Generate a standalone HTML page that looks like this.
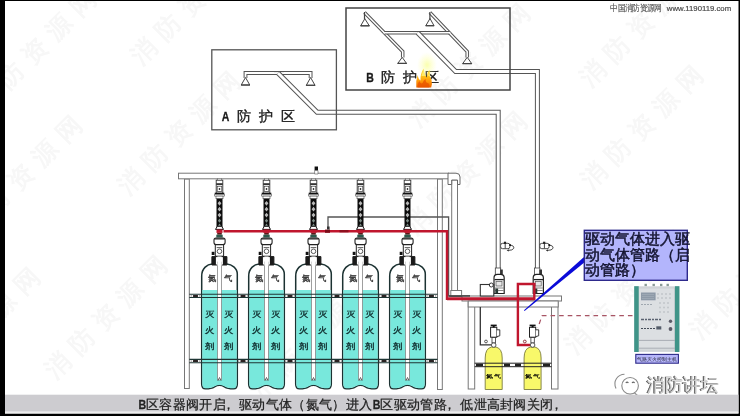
<!DOCTYPE html>
<html><head><meta charset="utf-8">
<style>
html,body{margin:0;padding:0;background:#000;}
body{width:740px;height:416px;overflow:hidden;position:relative;font-family:"Liberation Sans",sans-serif;}
svg{position:absolute;left:0;top:0;}
svg text{font-family:"Liberation Sans",sans-serif;}
</style></head>
<body>
<svg width="740" height="416" viewBox="0 0 740 416">
<defs>
  <pattern id="hose" x="0" y="0" width="7" height="7" patternUnits="userSpaceOnUse">
    <rect width="7" height="7" fill="#111"/>
    <path d="M3.5 1.5 L5 3.5 L3.5 5.5 L2 3.5 Z" fill="#bbb"/>
  </pattern>
  <g id="cyl">
    <!-- valve head -->
    <rect x="-1.8" y="178.3" width="3.6" height="2" fill="#fff" stroke="#666" stroke-width="0.6"/>
    <rect x="-3.3" y="180.2" width="6.6" height="13" fill="#fff" stroke="#333" stroke-width="0.9"/>
    <rect x="-3.3" y="183.2" width="6.6" height="1.8" fill="#333"/>
    <rect x="-2.3" y="186.2" width="4.6" height="5.2" fill="#fff" stroke="#333" stroke-width="0.7"/>
    <rect x="-0.7" y="188.2" width="1.4" height="1.6" fill="#111"/>
    <rect x="-4.8" y="192.7" width="9.6" height="1.6" fill="#111"/>
    <rect x="-4.8" y="194.3" width="9.6" height="1.8" fill="#fff" stroke="#444" stroke-width="0.6"/>
    <rect x="-3.5" y="196.1" width="7" height="2.6" fill="#fff" stroke="#444" stroke-width="0.6"/>
    <!-- hose -->
    <rect x="-3" y="198.7" width="6" height="28.5" fill="#0c0c0c"/>
    <path d="M0 200.9 l1.9 2.4 l-1.9 2.4 l-1.9 -2.4 Z M0 206.8 l1.9 2.4 l-1.9 2.4 l-1.9 -2.4 Z M0 212.7 l1.9 2.4 l-1.9 2.4 l-1.9 -2.4 Z" fill="#b8b8b8"/>
    <path d="M0 218.6 l1.6 2.1 l-1.6 2.1 l-1.6 -2.1 Z M0 223.6 l1.4 1.8 l-1.4 1.8 l-1.4 -1.8 Z" fill="#7c8c86"/>
    <!-- fitting -->
    <path d="M-4 229.4 L-2.2 226.3 H2.2 L4 229.4 Z" fill="#fff" stroke="#111" stroke-width="1"/>
    <rect x="-3" y="229.5" width="6" height="3.4" fill="#c0162e"/>
    <rect x="-2.3" y="232.9" width="4.6" height="1.8" fill="#5a1818"/>
    <rect x="-3.2" y="234.7" width="6.4" height="2.8" fill="#2c5a4c"/>
    <!-- valve body -->
    <rect x="-4.2" y="244" width="8.3" height="12.2" fill="#fff" stroke="#222" stroke-width="1"/>
    <rect x="-5.5" y="238" width="11.1" height="6.6" rx="2" fill="#fff" stroke="#222" stroke-width="1.1"/>
    <path d="M-5 238.9 H5" stroke="#222" stroke-width="1.2"/>
    <path d="M-2.8 247.6 H2.8" stroke="#333" stroke-width="0.8"/>
    <circle cx="0" cy="251.3" r="2.3" fill="none" stroke="#333" stroke-width="0.8"/>
    <rect x="-7.8" y="251.8" width="2.8" height="3.2" fill="#111"/>
    <!-- body -->
    <path d="M-7.4 264 C-12 264.3 -17.8 268 -17.8 276 V384 Q-17.8 388.8 -14 388.8 Q-8 388.8 -5 386.8 Q0 383.8 5 386.8 Q8 388.8 14 388.8 Q17.8 388.8 17.8 384 V274 C17.8 268 12 264.3 7.4 264 Z" fill="#fff" stroke="#1c3232" stroke-width="1.5"/>
    <path d="M-17.2 290 V384 Q-17.2 388.2 -14 388.2 Q-8 388.2 -5 386.2 Q0 383.2 5 386.2 Q8 388.2 14 388.2 Q17.2 388.2 17.2 384 V290 Z" fill="#78e8dc"/>
    <!-- collar -->
    <path d="M-7.6 256.6 H7.4 V265 H-7.6 Z" fill="#fff" stroke="#1a1a1a" stroke-width="1"/>
    <rect x="-7.6" y="256.6" width="4" height="8.4" fill="#1a1a1a"/>
    <rect x="3.4" y="256.6" width="4" height="8.4" fill="#1a1a1a"/>
    <!-- dip tube -->
    <rect x="-2.1" y="262" width="4.2" height="118" fill="#fff" stroke="#777" stroke-width="0.7"/>
    <rect x="-2.1" y="256.5" width="4.2" height="9" fill="#fff"/>
    <path d="M-1.5 380.5 l1.5 -3 l1.5 3" fill="none" stroke="#333" stroke-width="0.7"/>
    <!-- labels -->
    <g font-size="8.6" text-anchor="middle" fill="#383838" stroke="#383838" stroke-width="0.35">
    <text transform="translate(-7.6 280.6) scale(0.98 0.94)">氮</text>
    <text transform="translate(8.4 280.6) scale(0.98 0.94)">气</text>
    </g>
    <g font-size="9.6" text-anchor="middle" fill="#123232" stroke="#123232" stroke-width="0.45">
    <text transform="translate(-9.8 316.5) scale(0.98 0.84)">灭</text>
    <text transform="translate(9.5 316.5) scale(0.98 0.84)">灭</text>
    <text transform="translate(-9.8 332.8) scale(0.98 0.84)">火</text>
    <text transform="translate(9.5 332.8) scale(0.98 0.84)">火</text>
    <text transform="translate(-9.8 348.8) scale(0.98 0.84)">剂</text>
    <text transform="translate(9.5 348.8) scale(0.98 0.84)">剂</text>
    </g>
  </g>
</defs>

<!-- background -->
<rect x="5" y="1" width="733.5" height="412.5" fill="#fff"/>

<!-- watermarks -->
<g font-size="25" fill="#000" opacity="0.032" letter-spacing="9" font-weight="bold">
  <text transform="translate(-16 114) rotate(-45)">消防资源网</text>
  <text transform="translate(-30 240) rotate(-45)">消防资源网</text>
  <text transform="translate(141 66) rotate(-45)">消防资源网</text>
  <text transform="translate(128 196) rotate(-45)">消防资源网</text>
  <text transform="translate(415 236) rotate(-45)">消防资源网</text>
  <text transform="translate(590 88) rotate(-45)">消防资源网</text>
  <text transform="translate(591 190) rotate(-45)">消防资源网</text>
  <text transform="translate(700 340) rotate(-45)">消防资源网</text>
  <text transform="translate(575 355) rotate(-45)">消防资源网</text>
  <text transform="translate(260 400) rotate(-45)">消防资源网</text>
  <text transform="translate(55 380) rotate(-45)">消防资源网</text>
  <text transform="translate(-72 392) rotate(-45)">消防资源网</text>
  <text transform="translate(418 128) rotate(-45)">消防资源网</text>
</g>

<!-- ===== Zone B box ===== -->
<rect x="346" y="8" width="164" height="82" fill="none" stroke="#444" stroke-width="1.5"/>
<!-- Zone A box -->
<rect x="211.8" y="49.8" width="124.6" height="80" fill="none" stroke="#555" stroke-width="1.3"/>

<!-- pipes: outer gray then white inner -->
<g fill="none" stroke-linejoin="miter">
  <!-- A network -->
  <path d="M245.5 78 V73 H310.6 V78" stroke="#555" stroke-width="3.8"/>
  <path d="M245.5 78.5 V73 H310.6 V78.5" stroke="#fff" stroke-width="1.8"/>
  <!-- A feed -->
  <path d="M278 73 L317.2 112.2 H498.2 V275" stroke="#555" stroke-width="5"/>
  <path d="M278 73 L317.2 112.2 H498.2 V276" stroke="#fff" stroke-width="3"/>
  <path d="M274 71.6 H284" stroke="#555" stroke-width="1"/>
  <!-- B network -->
  <path d="M364.5 12.5 L402.7 51.5 V57.5" stroke="#555" stroke-width="3.5"/>
  <path d="M364.5 12.5 L402.7 51.5 V58" stroke="#fff" stroke-width="1.5"/>
  <path d="M429.9 12.5 L467.2 51.5 V57.5" stroke="#555" stroke-width="3.5"/>
  <path d="M429.9 12.5 L467.2 51.5 V58" stroke="#fff" stroke-width="1.5"/>
  <path d="M384.6 32.8 H449.3" stroke="#555" stroke-width="3.5"/>
  <path d="M383.6 32.8 H450.3" stroke="#fff" stroke-width="1.5"/>
  <!-- B feed -->
  <path d="M417.6 32.8 L455.6 71.5 H537.4 V275" stroke="#555" stroke-width="5"/>
  <path d="M417.6 32.8 L455.6 71.5 H537.4 V276" stroke="#fff" stroke-width="3"/>
  <path d="M413 31.55 H423" stroke="#555" stroke-width="1"/>
</g>
<!-- re-stroke box edges that pipes cross -->
<path d="M336.4 110 V114.5" stroke="#555" stroke-width="1.3"/>
<path d="M510 69 V74" stroke="#444" stroke-width="1.5"/>

<!-- nozzles -->
<g fill="#fff" stroke="#444" stroke-width="1">
  <path d="M245.5 77.5 L249.8 85 H241.2 Z"/>
  <path d="M310.6 77.5 L315 85.3 H306.3 Z"/>
  <path d="M364.8 18.7 L369.3 25.8 H360.7 Z"/>
  <path d="M430 18.5 L434 25.7 H425.8 Z"/>
  <path d="M402.2 57.3 L406.5 63.4 H397.8 Z"/>
  <path d="M467.2 57.3 L471.7 63.6 H462.7 Z"/>
</g>
<g stroke="#444" stroke-width="1.2">
  <path d="M364.5 12 V19"/><path d="M429.9 12 V19"/>
  <path d="M241 85 H250"/><path d="M306 85.3 H315.2"/>
  <path d="M360.5 25.8 H369.6"/><path d="M425.6 25.7 H434.2"/>
  <path d="M397.5 63.4 H406.8"/><path d="M462.5 63.6 H471.9"/>
</g>

<!-- zone labels -->
<g font-size="13.6" fill="#1a1a1a" stroke="#1a1a1a" stroke-width="0.35">
  <text x="0" y="0" font-size="13.5" font-weight="bold" transform="translate(221.8 120.6) scale(0.78 1)">A</text>
  <text x="236.9" y="120.9">防</text>
  <text x="258.8" y="120.9">护</text>
  <text x="280.7" y="120.9">区</text>
  <text x="0" y="0" font-size="13.5" font-weight="bold" transform="translate(366.2 81.7) scale(0.78 1)">B</text>
  <text x="381.3" y="81.9">防</text>
  <text x="403.2" y="81.9">护</text>
  <text x="424.6" y="81.9">区</text>
</g>
<!-- flame -->
<defs>
  <linearGradient id="flg" x1="0" y1="1" x2="0" y2="0">
    <stop offset="0" stop-color="#ea6400"/>
    <stop offset="0.3" stop-color="#ff9408"/>
    <stop offset="0.6" stop-color="#ffc21a"/>
    <stop offset="1" stop-color="#ffe94a"/>
  </linearGradient>
  <radialGradient id="glow" cx="0.5" cy="0.5" r="0.5">
    <stop offset="0" stop-color="#f6ff6a" stop-opacity="0.55"/>
    <stop offset="1" stop-color="#ffffa0" stop-opacity="0"/>
  </radialGradient>
</defs>
<ellipse cx="427" cy="65" rx="10" ry="13" fill="url(#glow)"/>
<path d="M416.3 87.5 Q415.6 81 417.6 75 Q418.6 79.5 420.5 80.5 Q420 74 423.6 68.5 Q424 75 427 77.5 Q427 72 429.6 70 Q429.2 76 431.5 80 Q432.5 84 431.2 87.5 Z" fill="url(#flg)"/>
<path d="M417.6 87.5 Q417.4 83.5 419.2 81 Q420.8 84.5 422.6 83 Q423.5 80 425.6 79 Q425.6 83.5 428.2 83 Q430 85 429.4 87.5 Z" fill="#e85200" opacity="0.75"/>
<path d="M421.5 76 Q422.5 72 424 70 Q424.5 74 426 76 Z M428 75.5 Q428.6 73 429.6 72 Q429.5 75 430.5 77 Z" fill="#fff27a" opacity="0.8"/>

<!-- ===== rack ===== -->
<g fill="#fff" stroke="#777" stroke-width="1">
  <rect x="184.5" y="179" width="4.8" height="209.5"/>
  <rect x="437.5" y="179" width="4.8" height="210.5"/>
  <rect x="178.5" y="173.2" width="270" height="5.6"/>
  <rect x="451.7" y="180" width="5.8" height="111"/>
  <path d="M448 173.2 H456 Q460 173.2 460 177 V184.5 H457.5 V180 H451.7 V184.5 H448 Z" stroke="#666"/>
  <rect x="450.8" y="290.5" width="10.8" height="6" />
</g>
<!-- small relief valve on top rail -->
<path d="M314.6 166.5 H318 V170.5 H314.6 Z" fill="#111"/>
<path d="M314.6 170.5 H318 V174 H314.6 Z" fill="#fff" stroke="#555" stroke-width="0.6"/>

<!-- gray manifold line -->
<path d="M328 228 V217 H448.6 V296 H470" fill="none" stroke="#555" stroke-width="1.3"/>

<!-- cylinders -->
<use href="#cyl" x="219.5"/>
<use href="#cyl" x="266.5"/>
<use href="#cyl" x="313.5"/>
<use href="#cyl" x="360.5"/>
<use href="#cyl" x="407.5"/>

<!-- clamp bars -->
<g fill="none" stroke="#1f3634" stroke-width="1.1">
  <path d="M189.3 294.2 H437.5 M189.3 297.5 H437.5"/>
  <path d="M189.3 359.4 H437.5 M189.3 362.7 H437.5"/>
</g>
<g fill="#2a2222">
  <rect x="192.9" y="294.9" width="5.2" height="2" rx="0.6"/><rect x="190.7" y="295.2" width="1" height="1.4" opacity="0.6"/><rect x="199.3" y="295.2" width="1" height="1.4" opacity="0.6"/>
  <rect x="240.4" y="294.9" width="5.2" height="2" rx="0.6"/><rect x="238.2" y="295.2" width="1" height="1.4" opacity="0.6"/><rect x="246.8" y="295.2" width="1" height="1.4" opacity="0.6"/>
  <rect x="287.4" y="294.9" width="5.2" height="2" rx="0.6"/><rect x="285.2" y="295.2" width="1" height="1.4" opacity="0.6"/><rect x="293.8" y="295.2" width="1" height="1.4" opacity="0.6"/>
  <rect x="334.4" y="294.9" width="5.2" height="2" rx="0.6"/><rect x="332.2" y="295.2" width="1" height="1.4" opacity="0.6"/><rect x="340.8" y="295.2" width="1" height="1.4" opacity="0.6"/>
  <rect x="381.4" y="294.9" width="5.2" height="2" rx="0.6"/><rect x="379.2" y="295.2" width="1" height="1.4" opacity="0.6"/><rect x="387.8" y="295.2" width="1" height="1.4" opacity="0.6"/>
  <rect x="428.8" y="294.9" width="5.2" height="2" rx="0.6"/><rect x="426.6" y="295.2" width="1" height="1.4" opacity="0.6"/><rect x="435.2" y="295.2" width="1" height="1.4" opacity="0.6"/>
  <rect x="192.9" y="360.1" width="5.2" height="2" rx="0.6"/><rect x="190.7" y="360.4" width="1" height="1.4" opacity="0.6"/><rect x="199.3" y="360.4" width="1" height="1.4" opacity="0.6"/>
  <rect x="240.4" y="360.1" width="5.2" height="2" rx="0.6"/><rect x="238.2" y="360.4" width="1" height="1.4" opacity="0.6"/><rect x="246.8" y="360.4" width="1" height="1.4" opacity="0.6"/>
  <rect x="287.4" y="360.1" width="5.2" height="2" rx="0.6"/><rect x="285.2" y="360.4" width="1" height="1.4" opacity="0.6"/><rect x="293.8" y="360.4" width="1" height="1.4" opacity="0.6"/>
  <rect x="334.4" y="360.1" width="5.2" height="2" rx="0.6"/><rect x="332.2" y="360.4" width="1" height="1.4" opacity="0.6"/><rect x="340.8" y="360.4" width="1" height="1.4" opacity="0.6"/>
  <rect x="381.4" y="360.1" width="5.2" height="2" rx="0.6"/><rect x="379.2" y="360.4" width="1" height="1.4" opacity="0.6"/><rect x="387.8" y="360.4" width="1" height="1.4" opacity="0.6"/>
  <rect x="428.8" y="360.1" width="5.2" height="2" rx="0.6"/><rect x="426.6" y="360.4" width="1" height="1.4" opacity="0.6"/><rect x="435.2" y="360.4" width="1" height="1.4" opacity="0.6"/>
</g>

<!-- ===== right platform ===== -->
<g fill="#fff" stroke="#777" stroke-width="1">
  <rect x="468.2" y="302" width="6.5" height="87"/>
  <rect x="551.5" y="302" width="6.5" height="87"/>
  <rect x="462" y="296" width="99.5" height="5"/>
  <rect x="468.2" y="301" width="90" height="6"/>
</g>
<path d="M449 296 H470" stroke="#444" stroke-width="1.4"/>

<!-- selector valves -->
<g id="selA">
  <rect x="495.3" y="268" width="5.4" height="7" fill="#fff" stroke="#444" stroke-width="0.8"/>
  <rect x="500.2" y="269.5" width="2.6" height="5" fill="#333"/>
  <path d="M494 293.5 V278 Q494 274.4 497.5 274.4 H500.5 Q504.2 274.4 504.2 278 V293.5 Z" fill="#fff" stroke="#222" stroke-width="1.2"/>
  <path d="M494.5 279.6 H503.8" stroke="#222" stroke-width="1.3"/>
  <rect x="496" y="281.5" width="6" height="4.5" fill="#e8e8e8" stroke="#555" stroke-width="0.7"/>
  <path d="M495 288 H503.5 M495 290.5 H503.5" stroke="#555" stroke-width="0.7"/>
  <rect x="495.3" y="288.5" width="2.8" height="5" fill="#2a3a34"/>
</g>
<use href="#selA" x="39.2"/>
<!-- pressure box -->
<rect x="480.3" y="284.5" width="13.5" height="11.5" fill="#fff" stroke="#333" stroke-width="1.1"/>
<circle cx="491.3" cy="285" r="2" fill="#fff" stroke="#333" stroke-width="1"/>
<!-- check valve symbols -->
<g id="chk">
  <rect x="500.6" y="243.3" width="9.3" height="5.4" rx="2" fill="#fff" stroke="#333" stroke-width="0.9"/>
  <path d="M505.2 243.5 V248.5" stroke="#444" stroke-width="1"/>
  <rect x="503.9" y="241.7" width="2.2" height="2.2" fill="#222"/>
  <path d="M509.8 245.1 Q514.6 245.6 513.7 248.4 Q512.8 250.4 508.2 250.4" fill="none" stroke="#333" stroke-width="0.9"/>
  <path d="M506.6 250.4 L508.8 249.2 L508.8 251.6 Z" fill="#333"/>
  <rect x="509.3" y="244.2" width="1.6" height="1.8" fill="#111"/>
</g>
<use href="#chk" x="39.2"/>

<!-- red drive line -->
<g fill="none" stroke="#c0162e" stroke-width="2.4">
  <path d="M223.5 231.2 H447 V298.8 H534.3 V284 H517.9 V345 H530"/>
</g>
<path d="M447 298.9 H534.3" stroke="#c0162e" stroke-width="2.8" fill="none"/>
<g fill="#7a0c18">
  <rect x="325" y="229.6" width="5" height="3.2"/>
  <rect x="339.5" y="230" width="9" height="2.4" opacity="0.7"/>
</g>
<path d="M327 226.5 h2.6 v3 h-2.6 z" fill="#333"/>

<!-- yellow cylinders -->
<g id="ycyl">
  <path d="M485.2 389.5 V358 Q485.2 348.5 491.5 347 H496 Q502.2 348.5 502.2 358 V389.5 Z" fill="#f8f86a" stroke="#7a7a40" stroke-width="0.9"/>
  <circle cx="493.7" cy="345" r="2.3" fill="#fff" stroke="#444" stroke-width="0.9"/>
  <rect x="492" y="337.2" width="3.4" height="5.6" fill="#fff" stroke="#333" stroke-width="0.8"/>
  <rect x="490.6" y="327.3" width="6.2" height="9.9" fill="#fff" stroke="#222" stroke-width="1"/>
  <path d="M496.8 329.8 H499.8 V335.8 L496.8 336.6" fill="#fff" stroke="#222" stroke-width="0.9"/>
  <rect x="490.7" y="324.6" width="6" height="1.7" fill="#111"/>
  <rect x="492.7" y="326" width="2" height="1.5" fill="#111"/>
  <text transform="translate(493.7 377.8) scale(1 0.72)" font-size="6.4" font-weight="bold" text-anchor="middle" fill="#000" letter-spacing="1">氮气</text>
</g>
<use href="#ycyl" x="38.9"/>
<!-- small fittings -->
<circle cx="486" cy="341.5" r="1.4" fill="#fff" stroke="#333" stroke-width="0.8"/>
<circle cx="524.8" cy="341.5" r="1.4" fill="#fff" stroke="#7a0c18" stroke-width="0.8"/>
<!-- platform clamp -->
<g fill="none" stroke="#222" stroke-width="1">
  <path d="M474.7 363.2 H551.5 M474.7 366.7 H551.5"/>
</g>
<g fill="#222">
  <rect x="476" y="363.7" width="7" height="2.6"/><rect x="504" y="363.7" width="6" height="2.6"/>
  <rect x="515" y="363.7" width="6" height="2.6"/><rect x="543" y="363.7" width="7" height="2.6"/>
</g>
<!-- dark gray pipe to left yellow -->
<path d="M480.3 307 V344.8 H491" fill="none" stroke="#333" stroke-width="1.3"/>

<!-- red dashed line -->
<path d="M632.5 315.7 H542 L537.8 328" fill="none" stroke="#a85464" stroke-width="1.25" stroke-dasharray="4.6 4"/>

<!-- blue callout line -->
<path d="M584.6 256.4 L584.6 262.2 L524.6 311 L524 310.2 Z" fill="#0a0ad8"/>

<!-- label box -->
<rect x="584.3" y="230.3" width="103" height="50" fill="#b3b5fc" stroke="#2e2a8c" stroke-width="1.4"/>
<g font-size="14.6" fill="#141430" stroke="#141430" stroke-width="0.5">
  <text x="585.2" y="243.9">驱动气体进入驱</text>
  <text x="585.2" y="259.6">动气体管路（启</text>
  <text x="585.2" y="275.3">动管路）</text>
</g>

<!-- control panel -->
<g>
  <g fill="#8a9a96"><rect x="644.5" y="283.8" width="2.4" height="2.6"/><rect x="652.5" y="283.8" width="2.4" height="2.6"/><rect x="660" y="283.8" width="2.4" height="2.6"/><rect x="666.5" y="283.8" width="2.4" height="2.6"/></g>
  <rect x="634.2" y="286.2" width="45.2" height="65.8" fill="#d6d9dc"/>
  <rect x="638.7" y="288" width="36" height="62" fill="#dcdfe2" stroke="#c4c8cc" stroke-width="0.6"/>
  <rect x="634.2" y="286.2" width="4.5" height="65.8" fill="#3f9488"/>
  <rect x="674.9" y="286.2" width="4.5" height="65.8" fill="#3f9488"/>
  <rect x="641" y="292.5" width="14.6" height="7.8" fill="#8e9aa8"/>
  <path d="M642 294.5 h12 M642 296.5 h12 M642 298.5 h12" stroke="#a8b2bc" stroke-width="0.6"/>
  <path d="M641 304.5 h12" stroke="#a0a8b0" stroke-width="1.2" stroke-dasharray="2 1"/>
  <g fill="#c2c6ca">
    <circle cx="658" cy="294" r="1"/><circle cx="662" cy="294" r="1"/><circle cx="666" cy="294" r="1"/><circle cx="670" cy="294" r="1"/>
    <circle cx="658" cy="298" r="1"/><circle cx="662" cy="298" r="1"/><circle cx="666" cy="298" r="1"/><circle cx="670" cy="298" r="1"/>
    <circle cx="660" cy="303" r="1"/><circle cx="664" cy="303" r="1"/><circle cx="668" cy="303" r="1"/>
    <circle cx="660" cy="307.5" r="1"/><circle cx="664" cy="307.5" r="1"/><circle cx="668" cy="307.5" r="1"/>
    <circle cx="660" cy="312" r="1"/><circle cx="664" cy="312" r="1"/><circle cx="668" cy="312" r="1"/>
  </g>
  <path d="M641 319.5 h20" stroke="#5a6270" stroke-width="1.4" stroke-dasharray="3 1 2 1"/>
  <path d="M641 328.5 h14" stroke="#444c58" stroke-width="1.1" stroke-dasharray="2 1"/>
  <rect x="656.3" y="326.3" width="5" height="3.2" fill="#555d6a"/>
  <circle cx="670.5" cy="321.3" r="1.7" fill="#5a5a66"/>
  <circle cx="670.5" cy="329" r="1.9" fill="#5a5a66"/>
  <path d="M638.7 340.4 H674.9 M638.7 348.2 H674.9" stroke="#9aa0a8" stroke-width="0.8"/>
  <rect x="635.8" y="354.4" width="42.6" height="8.8" fill="#b6b6fa" stroke="#2e2a88" stroke-width="1.1"/>
  <text x="657.1" y="361" font-size="5" text-anchor="middle" fill="#223">气路灭火控制主机</text>
</g>

<!-- top-right watermark -->
<text transform="translate(610.2 11.4) scale(0.86 1)" font-size="8.8" fill="#555" stroke="#555" stroke-width="0.15">中国消防资源网</text>
<text x="666.8" y="10.8" font-size="7.75" fill="#4a4a4a" stroke="#4a4a4a" stroke-width="0.2">www.1190119.com</text>

<!-- logo -->
<g fill="none" stroke="#8a8a8a" stroke-width="1.1">
  <path d="M616 388.5 Q613.5 383 616.5 378.5 Q619.5 374.5 624.5 374.3"/>
  <circle cx="630.1" cy="385.8" r="8.3"/>
  <path d="M625.8 383 Q627.1 381.3 628.4 383 M632 383 Q633.3 381.3 634.6 383" stroke="#666"/>
  <path d="M634.5 393 L637.5 395.5" />
</g>
<g font-size="17.8" stroke-width="0.5">
  <text x="645.9" y="391.3" fill="#5e5e5e" stroke="#5e5e5e" stroke-width="0.6">消防讲坛</text>
  <text x="646.8" y="390.5" fill="#d8d8d8" stroke="#d8d8d8" stroke-width="0.1">消防讲坛</text>
</g>

<!-- bottom caption band -->
<rect x="5" y="394.7" width="733.5" height="17" fill="#cdccd0"/>
<rect x="5" y="411.7" width="733.5" height="1.8" fill="#eee"/>
<g font-size="13.3" fill="#222" stroke="#222" stroke-width="0.25">
<text transform="translate(138.6 409) scale(0.8 1)" font-weight="bold">B</text>
<text x="145.8 159.1 172.5 185.8 199.1 212.5 222.1 239.1 252.4 265.8 279.1 292.4 305.8 319.1 332.4 345.8 359.1" y="409">区容器阀开启，驱动气体（氮气）进入</text>
<text transform="translate(372.8 409) scale(0.8 1)" font-weight="bold">B</text>
<text x="380.4 393.7 407.0 420.3 433.6 443.2 460.2 473.5 486.8 500.1 513.4 526.7 540.0 549.6" y="409">区驱动管路，低泄高封阀关闭，</text>
</g>

</svg>
</body></html>
